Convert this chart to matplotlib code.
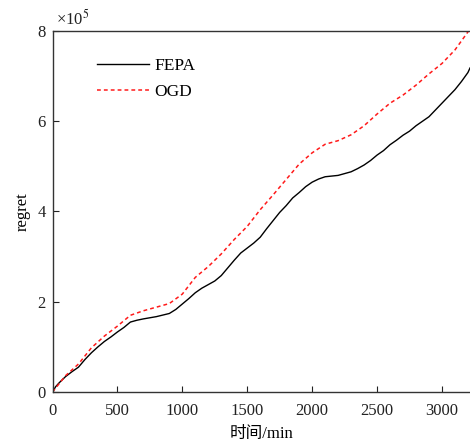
import numpy as np
import matplotlib
matplotlib.use("Agg")
import matplotlib.pyplot as plt

plt.rcParams['font.family'] = ['Liberation Serif', 'Noto Sans CJK SC']
plt.rcParams['mathtext.fontset'] = 'stix'

# time in minutes, regret in units of 1e5
t_fepa = [0, 25, 50, 100, 150, 200, 250, 300, 350, 400, 450, 500, 550, 600, 650, 700,
          800, 900, 950, 1000, 1050, 1100, 1150, 1200, 1250, 1300, 1350, 1400,
          1450, 1500, 1550, 1600, 1650, 1700, 1750, 1800, 1850, 1900, 1950,
          2000, 2050, 2100, 2200, 2300, 2350, 2400, 2450, 2500, 2550, 2600,
          2650, 2700, 2750, 2800, 2850, 2900, 2950, 3000, 3050, 3100, 3150,
          3200, 3216]
r_fepa = [0.0, 0.12, 0.2, 0.34, 0.45, 0.55, 0.72, 0.87, 1.0, 1.12, 1.22, 1.33, 1.43, 1.55,
          1.59, 1.62, 1.67, 1.74, 1.83, 1.95, 2.07, 2.2, 2.3, 2.38, 2.46, 2.58,
          2.75, 2.92, 3.08, 3.19, 3.3, 3.43, 3.62, 3.8, 3.98, 4.13, 4.3, 4.42,
          4.55, 4.65, 4.72, 4.77, 4.8, 4.88, 4.95, 5.03, 5.13, 5.25, 5.35, 5.48,
          5.58, 5.69, 5.78, 5.9, 6.0, 6.1, 6.25, 6.4, 6.55, 6.7, 6.88,
          7.08, 7.18]

t_ogd = [0, 100, 200, 300, 400, 500, 600, 700, 800, 900, 1000, 1100, 1200,
         1300, 1400, 1500, 1600, 1700, 1800, 1900, 2000, 2100, 2200, 2300,
         2400, 2500, 2600, 2700, 2800, 2900, 3000, 3100, 3200, 3216]
r_ogd = [0.0, 0.36, 0.62, 0.98, 1.24, 1.46, 1.7, 1.8, 1.88, 1.96, 2.17, 2.54,
         2.78, 3.06, 3.38, 3.67, 4.04, 4.37, 4.71, 5.05, 5.3, 5.49, 5.57, 5.7,
         5.9, 6.16, 6.4, 6.58, 6.8, 7.05, 7.28, 7.58, 7.98, 8.03]

xticks = [0, 500, 1000, 1500, 2000, 2500, 3000]
yticks = [0, 2, 4, 6, 8]

fig = plt.figure(figsize=(4.7, 4.45), dpi=100)
ax = fig.add_axes([52.5 / 470, 53 / 445, 1 - 52.5 / 470, 361 / 445])

ax.plot(t_fepa, np.array(r_fepa) * 1e5, color='black', lw=1.0, label='FEPA')
ax.plot(t_ogd, np.array(r_ogd) * 1e5, color='#ff1a1a', lw=1.1,
        linestyle=(0, (2.5, 2)), label='OGD')

ax.set_xlim(0, 3216)
ax.set_ylim(0, 8e5)
ax.set_xticks(xticks)
ax.set_yticks([v * 1e5 for v in yticks])
ax.set_yticklabels([str(v) for v in yticks])
ax.tick_params(direction='in', length=4, width=0.8, labelsize=12, colors='#222222',
               top=False, right=False)
ax.tick_params(axis='x', pad=8)
ax.tick_params(axis='y', pad=5)
for s in ['left', 'bottom', 'top']:
    ax.spines[s].set_linewidth(1.0)
    ax.spines[s].set_color('#333333')
ax.spines['right'].set_visible(False)

ax.set_xlabel('时间/min', fontsize=12, labelpad=5)
ax.set_ylabel('regret', fontsize=12, labelpad=5)
ax.text(0.008, 1.018, r'×10$^{5}$', transform=ax.transAxes, fontsize=12,
        va='baseline', ha='left', color='#222222')

ax.legend(loc='upper left', bbox_to_anchor=(0.107, 0.925), frameon=False,
          fontsize=12.5, handlelength=3.0, handletextpad=0.3, labelspacing=0.55,
          borderpad=0, borderaxespad=0)

fig.savefig('out.png', dpi=100)
